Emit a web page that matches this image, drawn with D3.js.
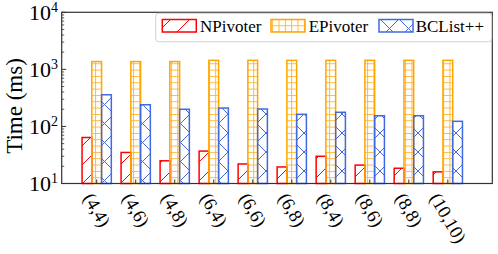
<!DOCTYPE html>
<html lang="en">
<head>
  <meta charset="UTF-8">
  <title>Time (ms)</title>
  <script src="https://d3js.org/d3.v7.min.js"></script>
  <style>
    body { margin: 0; background: #fff; }
    text { font-family: "Liberation Serif", "Times New Roman", serif; fill: #000; }
  </style>
</head>
<body>
<script>
var width = 498;
var height = 254;

// data
var categories = ["(4,4)", "(4,6)", "(4,8)", "(6,4)", "(6,6)", "(6,8)", "(8,4)", "(8,6)", "(8,8)", "(10,10)"];
var seriesNames = ["NPivoter", "EPivoter", "BCList++"];
var nPivoter = [64, 35, 25, 37, 22, 19.5, 30, 21, 18.5, 16];
var ePivoter = [1370, 1370, 1370, 1440, 1440, 1440, 1440, 1440, 1440, 1440];
var bcList = [359, 240, 200, 210, 202, 163, 177, 154, 154, 123];
var yTicks = [1, 2, 3, 4];

var colors = ["#ff0000", "#ffa500", "#4169e1"];
var hatchIds = ["hatch-slash", "hatch-plus", "hatch-x"];
var series = [nPivoter, ePivoter, bcList];

// plot box (window.top is taken, so prefixed names)
var pLeft = 61.7, pRight = 492.3, pTop = 12.3, pBottom = 183.5;
var barW = 0.25;

var x = d3.scaleLinear().domain([-0.897, 10.14]).range([pLeft, pRight]);
var y = d3.scaleLog().domain([10, 10000]).range([pBottom, pTop]);

var svg = d3.select("body").append("svg")
    .attr("width", width)
    .attr("height", height);

// hatch patterns
var defs = svg.append("defs");
var d = 19;
var p1 = defs.append("pattern").attr("id", "hatch-slash")
    .attr("patternUnits", "userSpaceOnUse").attr("width", d).attr("height", d);
p1.append("path").attr("d", "M0," + d + "L" + d + ",0M-2,2L2,-2M" + (d - 2) + "," + (d + 2) + "L" + (d + 2) + "," + (d - 2))
    .attr("stroke", colors[0]).attr("stroke-width", 1);

var g = 6.33;
var p2 = defs.append("pattern").attr("id", "hatch-plus")
    .attr("patternUnits", "userSpaceOnUse").attr("width", g).attr("height", g);
p2.append("path").attr("d", "M0,0.5H" + g + "M0.5,0V" + g)
    .attr("stroke", colors[1]).attr("stroke-width", 1).attr("opacity", 0.8);

var p3 = defs.append("pattern").attr("id", "hatch-x")
    .attr("patternUnits", "userSpaceOnUse").attr("width", d).attr("height", d);
p3.append("path").attr("d", "M0," + d + "L" + d + ",0M0,0L" + d + "," + d +
        "M-2,2L2,-2M" + (d - 2) + "," + (d + 2) + "L" + (d + 2) + "," + (d - 2) +
        "M-2," + (d - 2) + "L2," + (d + 2) + "M" + (d - 2) + ",-2L" + (d + 2) + ",2")
    .attr("stroke", colors[2]).attr("stroke-width", 1);

// bars
series.forEach(function(vals, s) {
    svg.append("g").selectAll("rect")
        .data(vals)
        .enter()
        .append("rect")
        .attr("x", function(v, i) { return x(i + (s - 1) * barW - barW / 2); })
        .attr("y", function(v) { return y(v); })
        .attr("width", x(barW) - x(0))
        .attr("height", function(v) { return pBottom - y(v); })
        .attr("fill", "url(#" + hatchIds[s] + ")")
        .attr("stroke", colors[s])
        .attr("stroke-width", 1.5);
});

// frame
svg.append("rect")
    .attr("x", pLeft).attr("y", pTop)
    .attr("width", pRight - pLeft).attr("height", pBottom - pTop)
    .attr("fill", "none").attr("stroke", "#333").attr("stroke-width", 1.2);

// y ticks (inward), major + minor
var minor = [];
for (var e = 1; e < 4; e++) {
    for (var m = 2; m <= 9; m++) minor.push(m * Math.pow(10, e));
}
svg.selectAll("line.minor").data(minor).enter().append("line")
    .attr("class", "minor")
    .attr("x1", pLeft).attr("x2", pLeft + 2.5)
    .attr("y1", function(v) { return y(v); })
    .attr("y2", function(v) { return y(v); })
    .attr("stroke", "#333").attr("stroke-width", 0.8);
svg.selectAll("line.major").data(yTicks).enter().append("line")
    .attr("class", "major")
    .attr("x1", pLeft).attr("x2", pLeft + 4.5)
    .attr("y1", function(v) { return y(Math.pow(10, v)); })
    .attr("y2", function(v) { return y(Math.pow(10, v)); })
    .attr("stroke", "#333").attr("stroke-width", 1);

var yl = svg.selectAll("text.ytick").data(yTicks).enter().append("text")
    .attr("class", "ytick")
    .attr("x", 58)
    .attr("y", function(v) { return y(Math.pow(10, v)) + 7.2; })
    .attr("text-anchor", "end")
    .style("font-size", "22px");
yl.append("tspan").text("10");
yl.append("tspan").text(function(v) { return v; })
    .style("font-size", "14px")
    .attr("dy", -8);

// x ticks (inward)
svg.selectAll("line.xtick").data(categories).enter().append("line")
    .attr("class", "xtick")
    .attr("x1", function(c, i) { return x(i); })
    .attr("x2", function(c, i) { return x(i); })
    .attr("y1", pBottom).attr("y2", pBottom - 4)
    .attr("stroke", "#333").attr("stroke-width", 1);

// rotated category labels, bbox centred under the tick
var xl = svg.selectAll("text.xlab").data(categories).enter().append("text")
    .attr("class", "xlab")
    .text(function(c) { return c; })
    .attr("text-anchor", "middle")
    .attr("dominant-baseline", "central")
    .style("font-size", "18.5px");
xl.attr("transform", function(c, i) {
    var L = this.getComputedTextLength();
    var h = 15;
    var dy = L * Math.sin(Math.PI / 3) + h * Math.cos(Math.PI / 3);
    return "translate(" + x(i) + "," + (191 + dy / 2) + ") rotate(60)";
});

// y label
svg.append("text").text("Time (ms)")
    .attr("text-anchor", "middle")
    .attr("transform", "translate(22,106) rotate(-90)")
    .style("font-size", "23px");

// legend
var lg = svg.append("g");
lg.append("rect")
    .attr("x", 155.7).attr("y", 13.3)
    .attr("width", 336).attr("height", 28.4)
    .attr("rx", 3)
    .attr("fill", "#fff").attr("fill-opacity", 0.8)
    .attr("stroke", "#d0d0d0").attr("stroke-width", 1);
var patchX = [162.3, 271, 379];
var textX = [200, 308.7, 415.7];
seriesNames.forEach(function(n, s) {
    lg.append("rect")
        .attr("x", patchX[s]).attr("y", 19.5)
        .attr("width", 34).attr("height", 12.5)
        .attr("fill", "url(#" + hatchIds[s] + ")")
        .attr("stroke", colors[s])
        .attr("stroke-width", 1.5);
    lg.append("text").text(n)
        .attr("x", textX[s]).attr("y", 32.3)
        .style("font-size", "17px");
});
</script>
</body>
</html>
